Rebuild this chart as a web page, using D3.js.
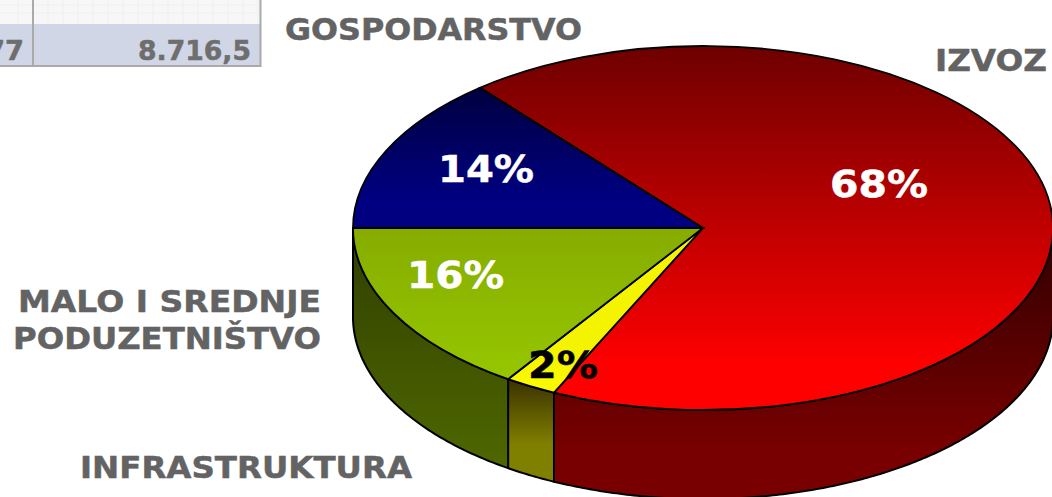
<!DOCTYPE html>
<html lang="en">
<head>
<meta charset="UTF-8">
<title>Gospodarstvo</title>
<script src="https://d3js.org/d3.v7.min.js"></script>
<style>
    html, body { margin: 0; padding: 0; background: #fff; overflow: hidden; }
    svg { display: block; font-family: "DejaVu Sans", sans-serif; font-weight: bold; }
</style>
</head>
<body>
<svg id="chart" width="1052" height="497"></svg>
<script>
const chartTitle = "GOSPODARSTVO";
const categories = ["IZVOZ", "INFRASTRUKTURA", "MALO I SREDNJE PODUZETNIŠTVO", "GOSPODARSTVO"];
const shares = [68, 2.4, 15.6, 14];
const tableCells = ["77", "8.716,5"];

const width = 1052, height = 497;
const cx = 703, cy = 228, rx = 350, ry = 182, depth = 89;
const startDeg = -39.6;
const labelColors = ["#fff", "#000", "#fff", "#fff"];

// gradient stops of the top faces, offset over the whole ellipse
const topStops = [
    [[0, "#6e0000"], [0.88, "#ff0000"]],
    [[0.85, "#f4f400"], [1, "#ffff00"]],
    [[0.5, "#86ac00"], [1, "#99cc00"]],
    [[0.1, "#00003c"], [0.42, "#000080"]]
];
// side walls: [y from, y to, dark colour, light colour]
const sideStops = [
    [228, 450, "#300000", "#780000"],
    [385, 445, "#403800", "#808000"],
    [228, 460, "#303e00", "#4d6600"],
    [228, 320, "#000020", "#000040"]
];

const svg = d3.select("#chart");
const defs = svg.append("defs");

topStops.forEach((stops, i) => {
    // the top face is squashed by a transform, so this runs in its own units
    const g = defs.append("linearGradient").attr("id", "top" + i)
        .attr("gradientUnits", "userSpaceOnUse")
        .attr("x1", 0).attr("x2", 0).attr("y1", -rx).attr("y2", rx);
    stops.forEach(s => g.append("stop").attr("offset", s[0]).attr("stop-color", s[1]));
});
sideStops.forEach((s, i) => {
    const g = defs.append("linearGradient").attr("id", "side" + i)
        .attr("gradientUnits", "userSpaceOnUse")
        .attr("x1", 0).attr("x2", 0).attr("y1", s[0]).attr("y2", s[1]);
    g.append("stop").attr("offset", 0).attr("stop-color", s[2]);
    g.append("stop").attr("offset", 1).attr("stop-color", s[3]);
});

// text squeezed to the measured width, the original font is wider than DejaVu
function putText(t, x, y, w, size, color) {
    return svg.append("text").attr("x", x).attr("y", y)
        .attr("font-size", size).attr("fill", color)
        .attr("stroke", color).attr("stroke-width", 0.5)
        .attr("textLength", w).attr("lengthAdjust", "spacingAndGlyphs")
        .text(t);
}

// table remnant, top left
const table = svg.append("g");
table.append("rect").attr("x", 0).attr("y", 0).attr("width", 260).attr("height", 24).attr("fill", "#f7f7f7");
table.selectAll("line.grid").data(d3.range(18, 260, 15)).join("line")
    .attr("x1", d => d).attr("x2", d => d).attr("y1", 0).attr("y2", 24)
    .attr("stroke", "#efefef");
table.selectAll("line.gridh").data([5, 13]).join("line")
    .attr("x1", 0).attr("x2", 260).attr("y1", d => d).attr("y2", d => d)
    .attr("stroke", "#efefef");
table.append("rect").attr("x", 0).attr("y", 24).attr("width", 260).attr("height", 41).attr("fill", "#d0d6e5");
table.append("path").attr("d", "M0,66H260.5V0M33,0V65").attr("fill", "none").attr("stroke", "#aaa").attr("stroke-width", 2);
putText(tableCells[0], -14, 60, 38, 26, "#6e6e6e");
putText(tableCells[1], 138, 60, 113, 26, "#6e6e6e");

const pie = d3.pie().sort(null)
    .startAngle(startDeg * Math.PI / 180)
    .endAngle((startDeg + 360) * Math.PI / 180);
const slices = pie(shares);

// unit circle to screen, 0 = top, clockwise
const px = a => cx + rx * Math.sin(a);
const py = a => cy - ry * Math.cos(a);

// side walls, only the front half is visible
const sideArea = d3.area().x(a => px(a)).y0(a => py(a)).y1(a => py(a) + depth);
slices.forEach((s, i) => {
    const a0 = Math.max(s.startAngle, Math.PI / 2), a1 = Math.min(s.endAngle, Math.PI * 1.5);
    if (a1 <= a0) return;
    const steps = d3.range(a0, a1, 0.01).concat([a1]);
    svg.append("path").attr("d", sideArea(steps))
        .attr("fill", `url(#side${i})`).attr("stroke", "#000").attr("stroke-width", 2).attr("stroke-linejoin", "round");
});

// top face, circle arc squashed into the ellipse
const arc = d3.arc().innerRadius(0).outerRadius(rx);
const topFace = svg.append("g").attr("transform", `translate(${cx},${cy}) scale(1,${ry / rx})`);
topFace.selectAll("path").data(slices).join("path")
    .attr("d", arc)
    .attr("fill", (d, i) => `url(#top${i})`)
    .attr("stroke", "#000").attr("stroke-width", 1.8)
    .attr("vector-effect", "non-scaling-stroke");

// percentage labels: x, baseline, width
const pctPos = [[830, 197, 98], [528, 378, 70], [407, 288, 97], [438, 182, 96]];
shares.forEach((v, i) => {
    putText(d3.format(".0f")(v) + "%", pctPos[i][0], pctPos[i][1], pctPos[i][2], 37, labelColors[i]);
});

// category labels
const grey = "#636363";
putText(chartTitle, 285, 40, 297, 30.5, grey);
putText(categories[0], 935, 71, 112, 30.5, grey);
putText(categories[1], 80, 478, 332, 30.5, grey);
putText("MALO I SREDNJE", 18, 312, 303, 30.5, grey);
putText("PODUZETNIŠTVO", 13, 349, 308, 30.5, grey);
</script>
</body>
</html>
